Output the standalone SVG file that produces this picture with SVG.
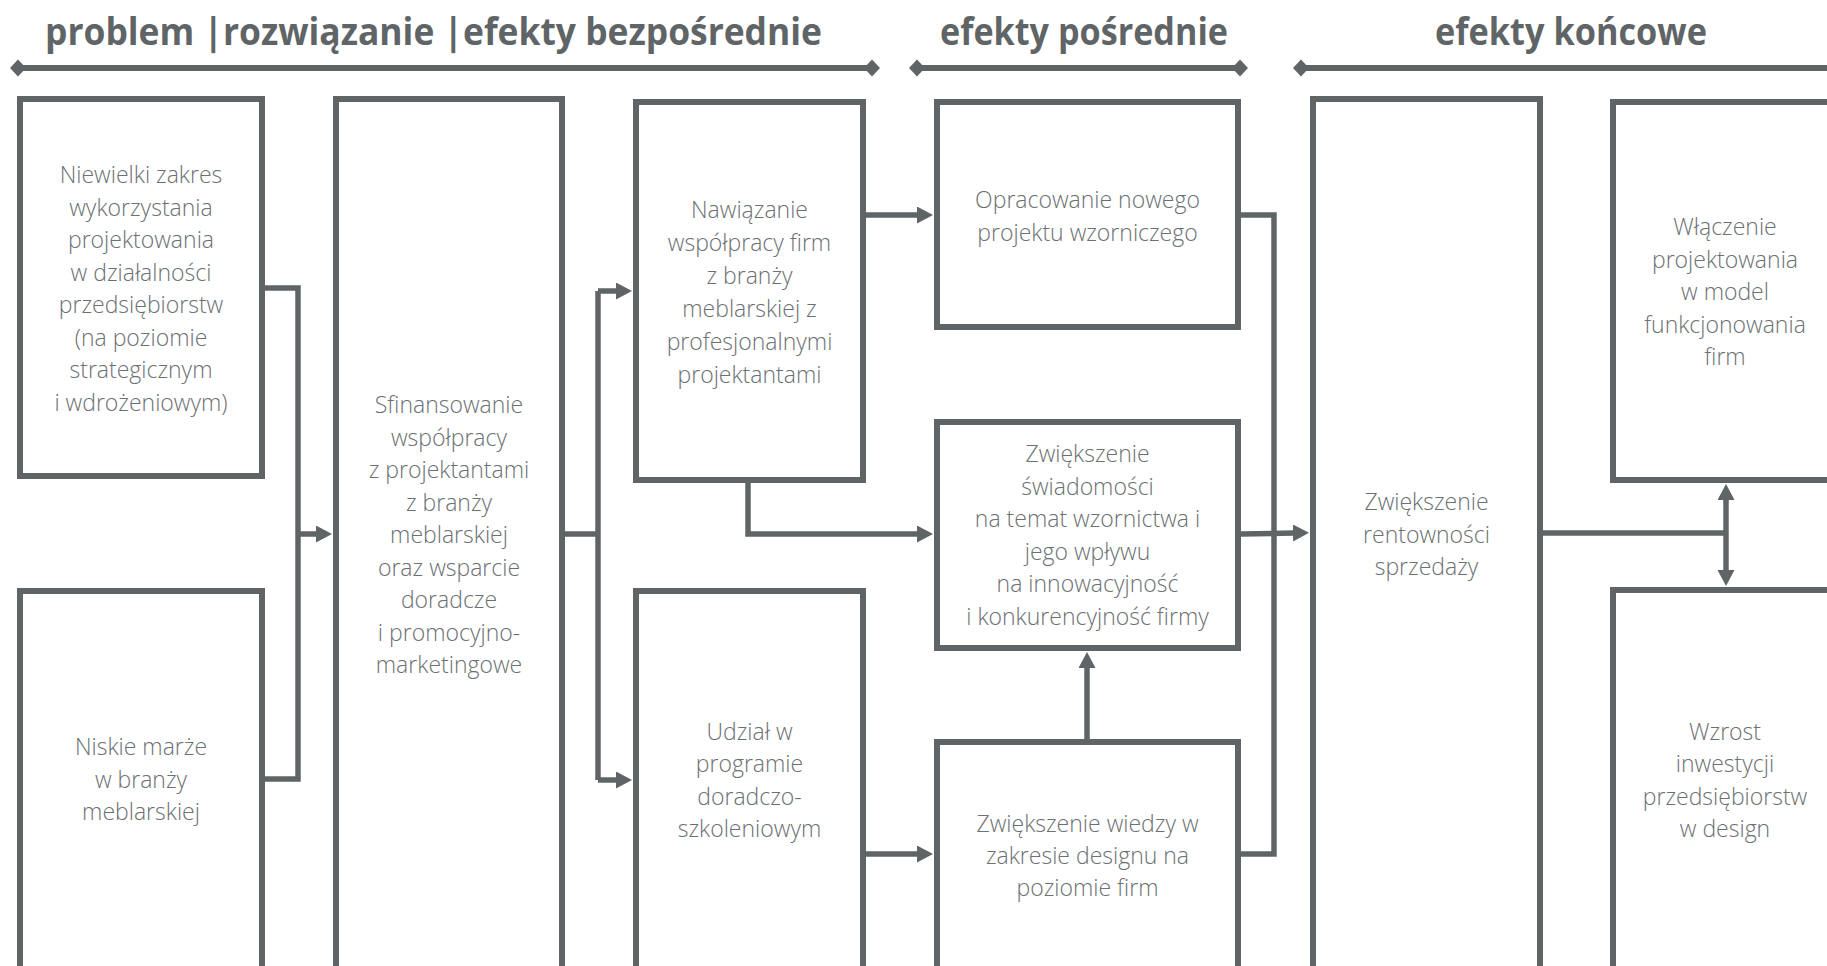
<svg xmlns="http://www.w3.org/2000/svg" width="1827" height="966" viewBox="0 0 1827 966">
<defs>
<style>
.box{fill:#ffffff;stroke:#5f6567;stroke-width:6}
.con{fill:none;stroke:#5f6567;stroke-width:5.5}
.hl{fill:none;stroke:#5f6567;stroke-width:6}
.dm{fill:#5f6567}
.t{font-family:"Open Sans","Liberation Sans",sans-serif;font-weight:300;font-size:23px;fill:#6b7072;text-anchor:middle}
.h{font-family:"Open Sans","Liberation Sans",sans-serif;font-weight:700;font-size:37px;fill:#5f6567}
</style>
<marker id="ah" markerUnits="userSpaceOnUse" markerWidth="18" markerHeight="18" refX="1" refY="8.5" orient="auto" viewBox="0 0 18 18">
<path d="M0,0 L16,8.5 L0,17 z" fill="#5f6567"/>
</marker>
</defs>
<rect width="1827" height="966" fill="#ffffff"/>

<g id="headers">
<text class="h" x="45" y="45" textLength="777" lengthAdjust="spacingAndGlyphs">problem |rozwiązanie |efekty bezpośrednie</text>
<text class="h" x="940" y="45" textLength="288" lengthAdjust="spacingAndGlyphs">efekty pośrednie</text>
<text class="h" x="1435" y="45" textLength="272" lengthAdjust="spacingAndGlyphs">efekty końcowe</text>
<line class="hl" x1="18" y1="68" x2="872" y2="68"/>
<path class="dm" d="M10,68 L18,59.5 L26,68 L18,76.5 z"/>
<path class="dm" d="M864,68 L872,59.5 L880,68 L872,76.5 z"/>
<line class="hl" x1="917" y1="68" x2="1240" y2="68"/>
<path class="dm" d="M909,68 L917,59.5 L925,68 L917,76.5 z"/>
<path class="dm" d="M1232,68 L1240,59.5 L1248,68 L1240,76.5 z"/>
<line class="hl" x1="1301" y1="68" x2="1827" y2="68"/>
<path class="dm" d="M1293,68 L1301,59.5 L1309,68 L1301,76.5 z"/>
</g>

<g id="connectors">
<polyline class="con" points="265,288 298,288 298,779 265,779"/>
<line class="con" x1="298" y1="534" x2="317" y2="534" marker-end="url(#ah)"/>
<line class="con" x1="565" y1="534" x2="598" y2="534"/>
<line class="con" x1="598" y1="291" x2="598" y2="780"/>
<line class="con" x1="598" y1="291" x2="617" y2="291" marker-end="url(#ah)"/>
<line class="con" x1="598" y1="780" x2="617" y2="780" marker-end="url(#ah)"/>
<line class="con" x1="866" y1="215" x2="918" y2="215" marker-end="url(#ah)"/>
<polyline class="con" points="748,483 748,534 918,534" marker-end="url(#ah)"/>
<line class="con" x1="866" y1="854" x2="918" y2="854" marker-end="url(#ah)"/>
<line class="con" x1="1087" y1="739" x2="1087" y2="667" marker-end="url(#ah)"/>
<polyline class="con" points="1241,215 1274,215 1274,854 1241,854"/>
<line class="con" x1="1241" y1="534" x2="1294" y2="533" marker-end="url(#ah)"/>
<line class="con" x1="1543" y1="533" x2="1726" y2="533"/>
<line class="con" x1="1726" y1="533" x2="1726" y2="499" marker-end="url(#ah)"/>
<line class="con" x1="1726" y1="533" x2="1726" y2="571" marker-end="url(#ah)"/>
</g>

<g id="n1">
<rect class="box" x="20" y="99" width="242" height="377"/>
<text class="t" x="141" y="183">Niewielki zakres</text>
<text class="t" x="141" y="215.5">wykorzystania</text>
<text class="t" x="141" y="248">projektowania</text>
<text class="t" x="141" y="280.5">w działalności</text>
<text class="t" x="141" y="313">przedsiębiorstw</text>
<text class="t" x="141" y="345.5">(na poziomie</text>
<text class="t" x="141" y="378">strategicznym</text>
<text class="t" x="141" y="410.5">i wdrożeniowym)</text>
</g>

<g id="n2">
<rect class="box" x="20" y="591" width="242" height="420"/>
<text class="t" x="141" y="755">Niskie marże</text>
<text class="t" x="141" y="787.5">w branży</text>
<text class="t" x="141" y="820">meblarskiej</text>
</g>

<g id="n3">
<rect class="box" x="336" y="99" width="226" height="912"/>
<text class="t" x="449" y="413">Sfinansowanie</text>
<text class="t" x="449" y="445.5">współpracy</text>
<text class="t" x="449" y="478">z projektantami</text>
<text class="t" x="449" y="510.5">z branży</text>
<text class="t" x="449" y="543">meblarskiej</text>
<text class="t" x="449" y="575.5">oraz wsparcie</text>
<text class="t" x="449" y="608">doradcze</text>
<text class="t" x="449" y="640.5">i promocyjno-</text>
<text class="t" x="449" y="673">marketingowe</text>
</g>

<g id="n4">
<rect class="box" x="636" y="102" width="227" height="378"/>
<text class="t" x="749.5" y="218">Nawiązanie</text>
<text class="t" x="749.5" y="251">współpracy firm</text>
<text class="t" x="749.5" y="284">z branży</text>
<text class="t" x="749.5" y="317">meblarskiej z</text>
<text class="t" x="749.5" y="350">profesjonalnymi</text>
<text class="t" x="749.5" y="383">projektantami</text>
</g>

<g id="n5">
<rect class="box" x="636" y="591" width="227" height="420"/>
<text class="t" x="749.5" y="740">Udział w</text>
<text class="t" x="749.5" y="772.3">programie</text>
<text class="t" x="749.5" y="804.6">doradczo-</text>
<text class="t" x="749.5" y="837">szkoleniowym</text>
</g>

<g id="n6">
<rect class="box" x="937" y="102" width="301" height="225"/>
<text class="t" x="1087.5" y="208">Opracowanie nowego</text>
<text class="t" x="1087.5" y="240.5">projektu wzorniczego</text>
</g>

<g id="n7">
<rect class="box" x="937" y="422" width="301" height="226"/>
<text class="t" x="1087.5" y="462">Zwiększenie</text>
<text class="t" x="1087.5" y="494.5">świadomości</text>
<text class="t" x="1087.5" y="527">na temat wzornictwa i</text>
<text class="t" x="1087.5" y="559.5">jego wpływu</text>
<text class="t" x="1087.5" y="592">na innowacyjność</text>
<text class="t" x="1087.5" y="624.5">i konkurencyjność firmy</text>
</g>

<g id="n8">
<rect class="box" x="937" y="742" width="301" height="269"/>
<text class="t" x="1087.5" y="832">Zwiększenie wiedzy w</text>
<text class="t" x="1087.5" y="864">zakresie designu na</text>
<text class="t" x="1087.5" y="896">poziomie firm</text>
</g>

<g id="n9">
<rect class="box" x="1313" y="99" width="227" height="912"/>
<text class="t" x="1426.5" y="510">Zwiększenie</text>
<text class="t" x="1426.5" y="542.5">rentowności</text>
<text class="t" x="1426.5" y="575">sprzedaży</text>
</g>

<g id="n10">
<rect class="box" x="1613" y="102" width="260" height="378"/>
<text class="t" x="1725" y="235">Włączenie</text>
<text class="t" x="1725" y="267.5">projektowania</text>
<text class="t" x="1725" y="300">w model</text>
<text class="t" x="1725" y="332.5">funkcjonowania</text>
<text class="t" x="1725" y="365">firm</text>
</g>

<g id="n11">
<rect class="box" x="1613" y="590" width="260" height="421"/>
<text class="t" x="1725" y="740">Wzrost</text>
<text class="t" x="1725" y="772.3">inwestycji</text>
<text class="t" x="1725" y="804.6">przedsiębiorstw</text>
<text class="t" x="1725" y="837">w design</text>
</g>
</svg>
